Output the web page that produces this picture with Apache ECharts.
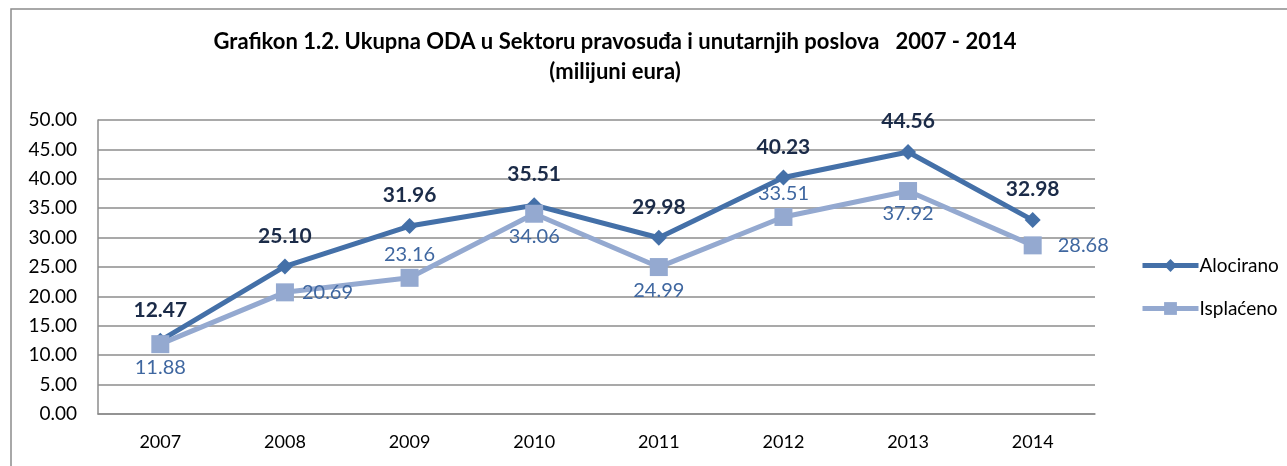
<!DOCTYPE html>
<html lang="hr">
<head>
    <meta charset="UTF-8">
    <title>Grafikon 1.2</title>
    <script src="https://cdn.jsdelivr.net/npm/echarts@6/dist/echarts.min.js"></script>
    <style>
        html, body { margin: 0; padding: 0; background: #fff; }
        #chart { width: 1287px; height: 466px; }
    </style>
</head>
<body>
    <div id="chart"></div>
    <script>
        // podaci
        const years = ['2007', '2008', '2009', '2010', '2011', '2012', '2013', '2014'];
        const alocirano = [12.47, 25.10, 31.96, 35.51, 29.98, 40.23, 44.56, 32.98];
        const isplaceno = [11.88, 20.69, 23.16, 34.06, 24.99, 33.51, 37.92, 28.68];
        // smjestaj oznaka za Isplaćeno
        const isplacenoLabelPos = ['bottom', 'right', 'top', 'bottom', 'bottom', 'top', 'bottom', 'right'];
        const isplacenoLabelDist = [4, 8, 4, 4, 4, 4, 4, 16];

        const font = 'Lato, "Open Sans", sans-serif';

        const chart = echarts.init(document.getElementById('chart'));
        chart.setOption({
            animation: false,
            textStyle: { fontFamily: font },
            graphic: [{
                type: 'rect',
                shape: { x: 11, y: 9, width: 1300, height: 500 },
                style: { fill: 'none', stroke: '#8c8c8c', lineWidth: 1.5 }
            }],
            title: {
                text: 'Grafikon 1.2. Ukupna ODA u Sektoru pravosuđa i unutarnjih poslova   2007 - 2014\n(milijuni eura)',
                left: 610,
                top: 22,
                textAlign: 'center',
                textStyle: { fontSize: 22, fontWeight: 'bold', color: '#000', lineHeight: 30, fontFamily: font }
            },
            legend: {
                orient: 'vertical',
                left: 1135,
                top: 251,
                itemWidth: 56,
                itemHeight: 16,
                itemGap: 24,
                lineStyle: { width: 5 },
                textStyle: { fontSize: 19, color: '#000', padding: [0, 0, 0, -4] },
                data: ['Alocirano', 'Isplaćeno']
            },
            grid: { left: 98, right: 192, top: 120, bottom: 52 },
            xAxis: {
                type: 'category',
                data: years,
                boundaryGap: true,
                axisLine: { lineStyle: { color: '#8c8c8c', width: 1.5 } },
                axisTick: { show: false },
                axisLabel: { margin: 19, fontSize: 18, color: '#000' }
            },
            yAxis: {
                type: 'value',
                min: 0,
                max: 50,
                interval: 5,
                axisLine: { show: true, lineStyle: { color: '#8c8c8c', width: 1.5 } },
                axisTick: { show: false },
                axisLabel: {
                    margin: 21,
                    fontSize: 19,
                    color: '#000',
                    formatter: v => v.toFixed(2)
                },
                splitLine: { lineStyle: { color: '#8c8c8c', width: 1.5 } }
            },
            series: [
                {
                    name: 'Isplaćeno',
                    type: 'line',
                    data: isplaceno.map((v, i) => ({
                        value: v,
                        label: { position: isplacenoLabelPos[i], distance: isplacenoLabelDist[i] }
                    })),
                    symbol: 'rect',
                    symbolSize: 18,
                    lineStyle: { color: '#94a9d0', width: 5 },
                    itemStyle: { color: '#94a9d0' },
                    label: {
                        show: true,
                        fontSize: 20,
                        color: '#3f67a0',
                        formatter: p => p.value.toFixed(2)
                    },
                    z: 2
                },
                {
                    name: 'Alocirano',
                    type: 'line',
                    data: alocirano,
                    symbol: 'diamond',
                    symbolSize: 16,
                    lineStyle: { color: '#4470a8', width: 5 },
                    itemStyle: { color: '#4470a8' },
                    label: {
                        show: true,
                        position: 'top',
                        distance: 12,
                        fontSize: 21,
                        fontWeight: 'bold',
                        color: '#1b2b48',
                        formatter: p => p.value.toFixed(2)
                    },
                    z: 1
                }
            ]
        });
    </script>
</body>
</html>
